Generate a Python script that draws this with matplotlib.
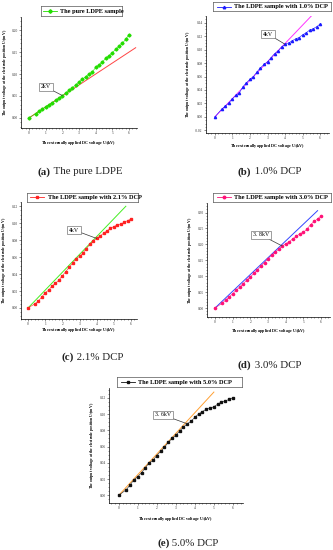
import matplotlib
matplotlib.use("Agg")
import matplotlib.pyplot as plt
import numpy as np

plt.rcParams['font.family'] = ['Liberation Serif', 'DejaVu Serif']

W, H = 333, 550

x_kv = [0, 0.4, 0.6, 0.8, 1.0, 1.2, 1.4, 1.6, 1.8, 2.0, 2.2, 2.4, 2.6, 2.8, 3.0,
        3.2, 3.4, 3.6, 3.8, 4.0, 4.2, 4.4, 4.6, 4.8, 5.0, 5.2, 5.4, 5.6, 5.8, 6.0]

y_pure = [0.000, 0.010, 0.015, 0.020, 0.026, 0.030, 0.035, 0.040, 0.045, 0.051,
          0.057, 0.063, 0.069, 0.075, 0.082, 0.088, 0.094, 0.100, 0.105, 0.115,
          0.121, 0.127, 0.136, 0.142, 0.149, 0.156, 0.163, 0.170, 0.179, 0.190]
y_dcp10 = [0.000, 0.012, 0.016, 0.021, 0.027, 0.032, 0.036, 0.045, 0.051, 0.056,
           0.060, 0.067, 0.073, 0.078, 0.082, 0.088, 0.094, 0.098, 0.104, 0.108,
           0.110, 0.113, 0.116, 0.118, 0.122, 0.125, 0.129, 0.131, 0.134, 0.138]
y_dcp21 = [0.000, 0.005, 0.008, 0.013, 0.018, 0.021, 0.026, 0.029, 0.033, 0.038,
           0.043, 0.048, 0.053, 0.058, 0.061, 0.065, 0.070, 0.075, 0.079, 0.082,
           0.085, 0.088, 0.091, 0.094, 0.096, 0.098, 0.099, 0.101, 0.103, 0.105]
y_dcp30 = [0.000, 0.015, 0.025, 0.035, 0.045, 0.056, 0.066, 0.077, 0.088, 0.098,
           0.109, 0.120, 0.132, 0.143, 0.155, 0.166, 0.175, 0.185, 0.195, 0.202,
           0.208, 0.218, 0.225, 0.234, 0.238, 0.248, 0.262, 0.272, 0.280, 0.290]
y_dcp50 = [0.000, 0.007, 0.013, 0.019, 0.023, 0.028, 0.034, 0.040, 0.043, 0.049,
           0.054, 0.059, 0.065, 0.070, 0.074, 0.079, 0.084, 0.088, 0.091, 0.096,
           0.100, 0.103, 0.106, 0.107, 0.109, 0.112, 0.115, 0.116, 0.118, 0.120]

# fitted linear lines: start and end points
fit_a = ([0, 6.4], [0, 0.160])
fit_b = ([0, 5.5], [0, 0.150])
fit_c = ([0, 5.7], [0, 0.120])
fit_d = ([0, 5.8], [0, 0.306])
fit_e = ([0, 5.0], [0, 0.127])

labels = ["The pure LDPE sample", "The LDPE sample with 1.0% DCP",
          "The LDPE sample with 2.1% DCP", "The LDPE sample with 3.0% DCP",
          "The LDPE sample with 5.0% DCP"]
captions = [("(a)", " The pure LDPE"), ("(b)", " 1.0% DCP"), ("(c)", " 2.1% DCP"),
            ("(d)", " 3.0% DCP"), ("(e)", " 5.0% DCP")]
annots = ["2kV", "4kV", "4kV", "3. 8kV", "3. 6kV"]
annot_pts = [(2.0, 0.051), (4.0, 0.108), (4.0, 0.082), (3.8, 0.195), (3.6, 0.088)]

fig = plt.figure(figsize=(W / 100, H / 100), dpi=100)

def rect(l, t, r, b):
    return [l / W, 1 - b / H, (r - l) / W, (b - t) / H]

panels = [
    dict(box=(21, 17, 137, 128), xlim=(-0.48, 6.48), ylim=(-0.023, 0.23),
         yt=np.arange(0, 0.201, 0.05), y=y_pure, fit=fit_a, mc='#22dd00', mk='D',
         fc='#ff4444', leg=(41, 6, 122, 16), xl=143, ylx=5, cap=(38, 172),
         ann=(46, 87)),
    dict(box=(206, 16, 329, 133), xlim=(-0.51, 6.51), ylim=(-0.024, 0.150),
         yt=np.arange(-0.02, 0.141, 0.02), y=y_dcp10, fit=fit_b, mc='#1a1aff', mk='^',
         fc='#ff33ff', leg=(213, 2, 331, 11), xl=146, ylx=188, cap=(238, 172),
         ann=(268, 34)),
    dict(box=(21, 202, 137, 319), xlim=(-0.41, 6.35), ylim=(-0.013, 0.125),
         yt=np.arange(0, 0.121, 0.02), y=y_dcp21, fit=fit_c, mc='#ff2222', mk='s',
         fc='#44ee22', leg=(27, 193, 138, 202), xl=330, ylx=4, cap=(62, 357),
         ann=(74, 230)),
    dict(box=(207, 203, 330, 317), xlim=(-0.45, 6.5), ylim=(-0.028, 0.33),
         yt=np.arange(0, 0.301, 0.05), y=y_dcp30, fit=fit_d, mc='#ff1177', mk='o',
         fc='#3344ff', leg=(213, 193, 331, 202), xl=331, ylx=190, cap=(238, 365),
         ann=(261, 235)),
    dict(box=(109, 388, 243, 503), xlim=(-0.51, 6.53), ylim=(-0.0094, 0.132),
         yt=np.arange(0, 0.121, 0.02), y=y_dcp50, fit=fit_e, mc='#111111', mk='s',
         fc='#ffa033', leg=(117, 377, 242, 387), xl=519, ylx=92, cap=(157, 543),
         ann=(163, 415)),
]

for i, p in enumerate(panels):
    ax = fig.add_axes(rect(*p['box']))
    ax.plot(p['fit'][0], p['fit'][1], color=p['fc'], lw=0.7, zorder=2)
    ax.plot(x_kv, p['y'], color=p['mc'], lw=0.4, marker=p['mk'], ms=1.6,
            mec=p['mc'], mfc=p['mc'], zorder=3)
    ax.set_xlim(*p['xlim'])
    ax.set_ylim(*p['ylim'])
    ax.set_xticks(range(0, 7))
    ax.set_yticks(p['yt'])
    ax.set_yticklabels(["%.2f" % v for v in p['yt']])
    ax.spines['top'].set_visible(False)
    ax.spines['right'].set_visible(False)
    for s in ('left', 'bottom'):
        ax.spines[s].set_linewidth(0.5)
    ax.tick_params(labelsize=2.6, width=0.4, length=1.2, pad=1.2, colors='#333333')
    ax.minorticks_on()
    ax.tick_params(which='minor', width=0.3, length=0.7)
    ax.patch.set_alpha(0)
    # axis labels
    bx = p['box']
    fig.text((bx[0] + bx[2]) / 2 / W, 1 - p['xl'] / H,
             "The externally applied DC voltage U$_i$(kV)", ha='center', va='center',
             fontsize=3.0, fontweight='bold')
    fig.text(p['ylx'] / W, 1 - (bx[1] + bx[3]) / 2 / H,
             "The output voltage at the electrode position U$_r$(mV)", ha='center',
             va='center', rotation=90, fontsize=2.8, fontweight='bold')
    # legend
    lx0, ly0, lx1, ly1 = p['leg']
    lax = fig.add_axes(rect(lx0, ly0, lx1, ly1))
    lax.set_xlim(0, 1)
    lax.set_ylim(0, 1)
    lax.set_xticks([])
    lax.set_yticks([])
    for s in lax.spines.values():
        s.set_linewidth(0.5)
        s.set_color('#555555')
    frac = 14 / (lx1 - lx0)
    lax.plot([0.03, 0.03 + frac], [0.5, 0.5], color=p['mc'], lw=0.6)
    lax.plot([0.03 + frac / 2], [0.5], marker=p['mk'], color=p['mc'], ms=1.8)
    lax.text(0.06 + frac, 0.45, labels[i], fontsize=4.6, fontweight='bold',
             va='center', ha='left')
    # annotation
    ax.annotate(annots[i], xy=annot_pts[i], xycoords='data',
                xytext=(p['ann'][0], H - p['ann'][1]), textcoords='figure pixels',
                fontsize=4.2, ha='center', va='center',
                bbox=dict(boxstyle='square,pad=0.25', fc='white', ec='#777777', lw=0.5),
                arrowprops=dict(arrowstyle='-', color='#333333', lw=0.5,
                                shrinkA=0, shrinkB=0))
    # caption: bold label + regular text
    t1 = fig.text(p['cap'][0] / W, 1 - p['cap'][1] / H, captions[i][0], ha='left',
                  va='center', fontsize=7.8, fontweight='bold', color='#222222')
    plt.annotate(captions[i][1], xy=(1, 0.5), xycoords=t1, xytext=(0, 0),
                 textcoords='offset points', ha='left', va='center', fontsize=7.8,
                 color='#222222', annotation_clip=False)

fig.savefig("out.png", dpi=100)
